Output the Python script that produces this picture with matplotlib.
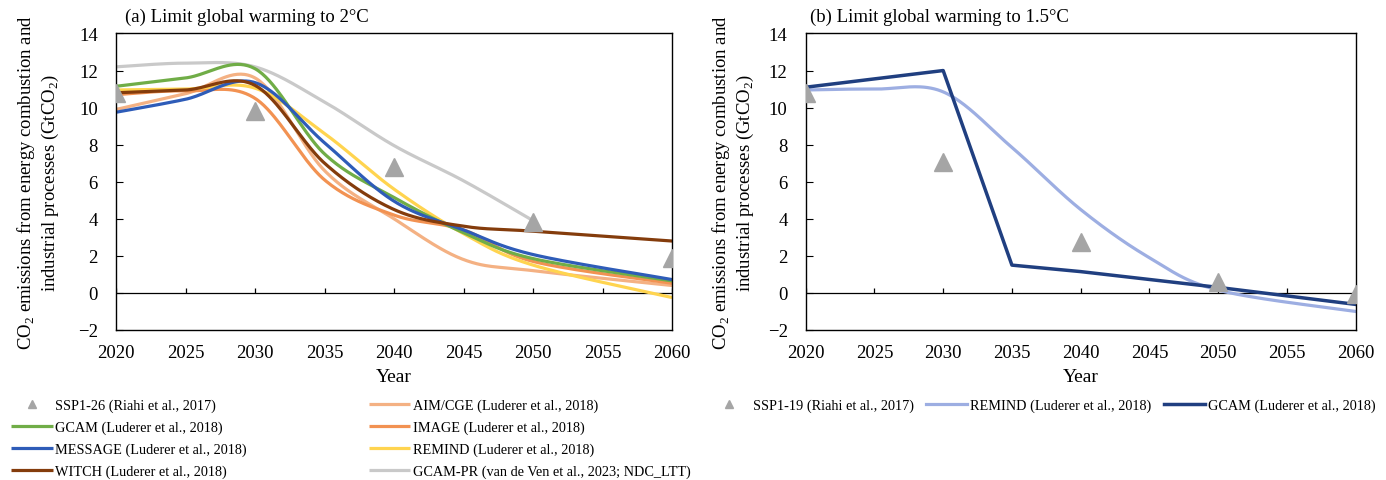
import numpy as np
import matplotlib
matplotlib.use('Agg')
import matplotlib.pyplot as plt
from matplotlib.lines import Line2D

plt.rcParams['font.family'] = ['Liberation Serif', 'DejaVu Serif']
plt.rcParams['mathtext.fontset'] = 'custom'
plt.rcParams['mathtext.rm'] = 'Liberation Serif'

# ---- data (GtCO2) ----
yrs = [2020, 2025, 2030, 2035, 2040, 2045, 2050, 2060]
yrs_pr = [2020, 2025, 2030, 2035, 2040, 2045, 2050]
yrs_ssp = [2020, 2030, 2040, 2050, 2060]

ssp126 = [10.8, 9.8, 6.8, 3.85, 1.87]
aim = [9.9, 10.75, 11.6, 6.6, 4.0, 1.8, 1.2, 0.4]
gcam_a = [11.15, 11.6, 12.1, 7.5, 5.15, 3.25, 1.85, 0.65]
image = [10.7, 10.9, 10.5, 6.1, 4.2, 3.4, 1.7, 0.52]
message = [9.75, 10.45, 11.35, 8.1, 4.95, 3.4, 2.07, 0.72]
remind_a = [10.95, 11.0, 11.05, 8.6, 5.6, 3.2, 1.5, -0.25]
witch = [10.8, 10.95, 11.2, 7.0, 4.5, 3.6, 3.33, 2.8]
gcampr = [12.2, 12.4, 12.2, 10.3, 7.95, 6.05, 3.9]

ssp119 = [10.8, 7.05, 2.75, 0.58, -0.05]
remind_b = [10.95, 11.0, 10.85, 7.85, 4.5, 1.9, 0.15, -1.0]
yrs_gcam_b = [2020, 2030, 2035, 2040, 2050, 2060]
gcam_b = [11.1, 12.0, 1.5, 1.15, 0.3, -0.62]


def smooth(x, y, n=40):
    # excel style smoothed line (bezier through points)
    p = np.column_stack([x, y]).astype(float)
    p = np.vstack([p[0], p, p[-1]])
    out = []
    t = np.linspace(0, 1, n)[:, None]
    for i in range(1, len(p) - 2):
        p0, p1, p2, p3 = p[i - 1], p[i], p[i + 1], p[i + 2]
        c1 = p1 + (p2 - p0) / 6.0
        c2 = p2 - (p3 - p1) / 6.0
        seg = (1 - t) ** 3 * p1 + 3 * (1 - t) ** 2 * t * c1 + 3 * (1 - t) * t ** 2 * c2 + t ** 3 * p2
        out.append(seg if i == 1 else seg[1:])
    out = np.vstack(out)
    return out[:, 0], out[:, 1]


fig = plt.figure(figsize=(13.86, 4.81), dpi=100)
ax1 = fig.add_axes([0.0837, 0.3119, 0.4012, 0.6164])
ax2 = fig.add_axes([0.5813, 0.3119, 0.3968, 0.6164])

tri = '#A5A5A5'
lw = 2.3
series_a = [
    (gcampr, yrs_pr, '#C9C9C9', 'GCAM-PR (van de Ven et al., 2023; NDC_LTT)'),
    (aim, yrs, '#F4B183', 'AIM/CGE (Luderer et al., 2018)'),
    (image, yrs, '#F29252', 'IMAGE (Luderer et al., 2018)'),
    (remind_a, yrs, '#FFD44F', 'REMIND (Luderer et al., 2018)'),
    (gcam_a, yrs, '#70AD47', 'GCAM (Luderer et al., 2018)'),
    (message, yrs, '#2E5CB8', 'MESSAGE (Luderer et al., 2018)'),
    (witch, yrs, '#843C0C', 'WITCH (Luderer et al., 2018)'),
]
h = {}
for vals, xx, c, lab in series_a:
    sx, sy = smooth(xx, vals)
    h[lab], = ax1.plot(sx, sy, color=c, lw=lw, label=lab, solid_capstyle='butt')
ax1.plot(yrs_ssp, ssp126, ls='none', marker='^', ms=13.5, color=tri, zorder=5)

sx, sy = smooth(yrs, remind_b)
hb1, = ax2.plot(sx, sy, color='#9DAEE2', lw=lw, label='REMIND (Luderer et al., 2018)')
hb2, = ax2.plot(yrs_gcam_b, gcam_b, color='#203F80', lw=2.5, label='GCAM (Luderer et al., 2018)')
ax2.plot(yrs_ssp, ssp119, ls='none', marker='^', ms=13.5, color=tri, zorder=5)

xt = np.arange(2020, 2061, 5)
ylab = 'CO$_2$ emissions from energy combustion and\nindustrial processes (GtCO$_2$)'
for ax, lp in ((ax1, 12.5), (ax2, 8.5)):
    ax.set_xlim(2020, 2060)
    ax.set_ylim(-2, 14)
    ax.set_yticks(np.arange(-2, 15, 2))
    ax.set_xticks(xt)
    ax.tick_params(axis='x', length=0, pad=10, labelsize=13.5)
    ax.tick_params(axis='y', direction='in', length=5, pad=13, labelsize=13.5)
    ax.axhline(0, color='black', lw=0.9, zorder=1)
    ax.vlines(xt, 0, 0.27, color='black', lw=0.9, zorder=1)
    for s in ax.spines.values():
        s.set_linewidth(1.0)
    ax.set_xlabel('Year', fontsize=14, labelpad=5)
    ax.set_ylabel(ylab, fontsize=13.5, labelpad=lp, linespacing=1.15)

ax1.text(0.016, 1.03, '(a) Limit global warming to 2\u00b0C', transform=ax1.transAxes,
         fontsize=13.5, va='bottom', ha='left')
ax2.text(0.008, 1.03, '(b) Limit global warming to 1.5\u00b0C', transform=ax2.transAxes,
         fontsize=13.5, va='bottom', ha='left')

# legends
tri_a = Line2D([], [], ls='none', marker='^', ms=6, color=tri, label='SSP1-26 (Riahi et al., 2017)')
tri_b = Line2D([], [], ls='none', marker='^', ms=6, color=tri, label='SSP1-19 (Riahi et al., 2017)')
order = [tri_a, h['GCAM (Luderer et al., 2018)'], h['MESSAGE (Luderer et al., 2018)'],
         h['WITCH (Luderer et al., 2018)'], h['AIM/CGE (Luderer et al., 2018)'],
         h['IMAGE (Luderer et al., 2018)'], h['REMIND (Luderer et al., 2018)'],
         h['GCAM-PR (van de Ven et al., 2023; NDC_LTT)']]
fig.legend(handles=order, ncol=2, loc='upper left', bbox_to_anchor=(0.008, 0.169),
           frameon=False, fontsize=10.3, handlelength=2.9, handletextpad=0.2,
           columnspacing=8.5, labelspacing=0.6, borderpad=0, borderaxespad=0)
fig.legend(handles=[tri_b, hb1, hb2], ncol=3, loc='upper left', bbox_to_anchor=(0.5115, 0.169),
           frameon=False, fontsize=10.3, handlelength=2.85, handletextpad=0.2,
           columnspacing=0.9, borderpad=0, borderaxespad=0)

fig.savefig('out.png', dpi=100)
